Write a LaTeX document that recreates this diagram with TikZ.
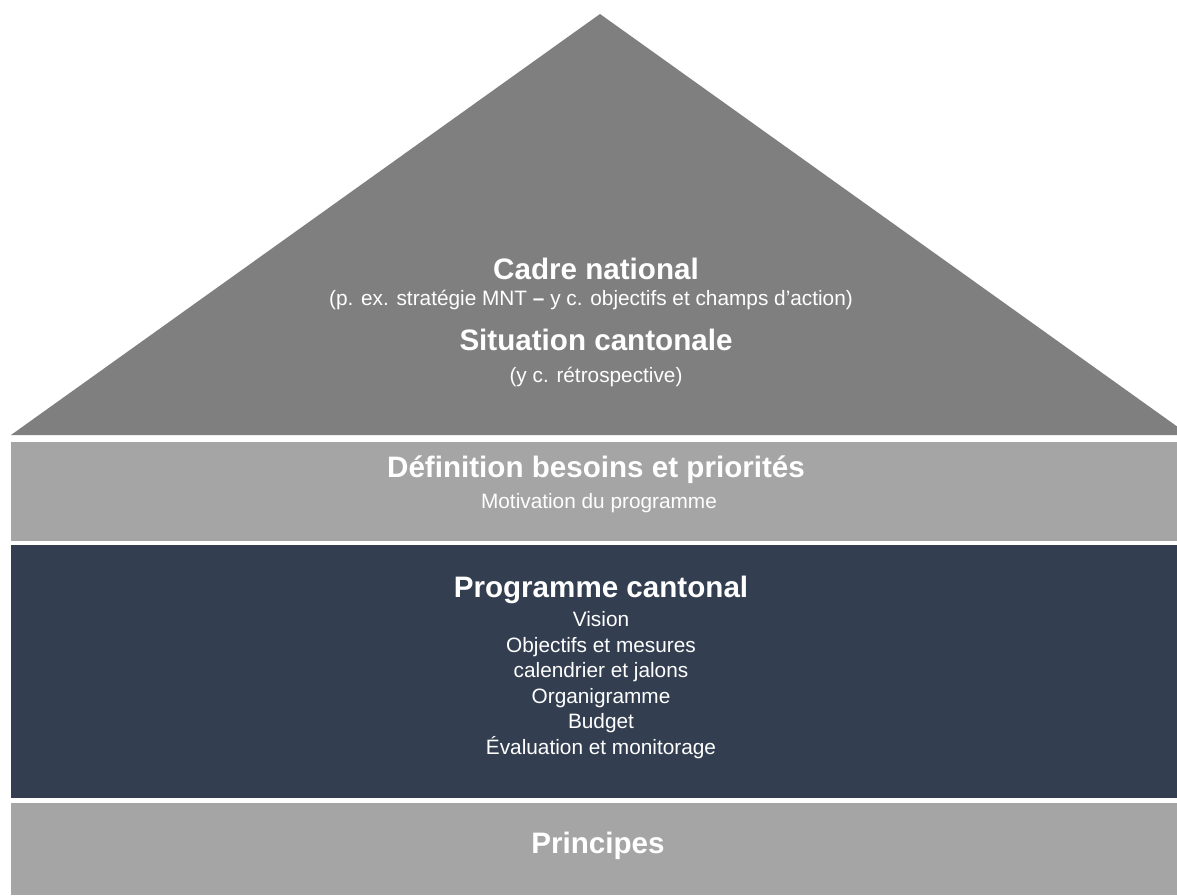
\documentclass[tikz,border=0pt]{standalone}
\usepackage{fontspec}
\setmainfont{Liberation Sans}
\definecolor{tri}{HTML}{7F7F7F}
\definecolor{band}{HTML}{A5A5A5}
\definecolor{dark}{HTML}{333F50}
\begin{document}
\begin{tikzpicture}[x=1pt,y=-1pt,
  title/.style={text=white,font=\fontsize{29.6}{32}\selectfont\bfseries,anchor=base,inner sep=0pt},
  sub/.style={text=white,font=\fontsize{20.8}{23}\selectfont,anchor=base,inner sep=0pt},
  item/.style={text=white,font=\fontsize{20.8}{23}\selectfont,anchor=base,inner sep=0pt}]
\useasboundingbox (0,0) rectangle (1177,895);
\fill[white] (0,0) rectangle (1177,895);
% roof
\coordinate (apex) at (600,14);
\coordinate (bl) at (11,435);
\fill[tri] (bl) -- (apex) -- (1189,435) -- cycle;
\fill[white] (1177,0) rectangle (1200,895);
% bands
\fill[band] (11,442) rectangle (1177,541);
\fill[dark] (11,545) rectangle (1177,798);
\fill[band] (11,803) rectangle (1177,895);
% texts
\node[title] (cadre) at (596,279) {Cadre national};
\node[sub] (cadresub) at (591,305) {(p. ex. stratégie MNT \textbf{–} y c. objectifs et champs d’action)};
\node[title] (sit) at (596,350) {Situation cantonale};
\node[sub] (sitsub) at (596,382) {(y c. rétrospective)};
\node[title] (def) at (596,477) {Définition besoins et priorités};
\node[sub] (defsub) at (599,508) {Motivation du programme};
\node[title] (prog) at (601,597) {Programme cantonal};
\node[item] (i1) at (601,626) {Vision};
\node[item] (i2) at (601,652) {Objectifs et mesures};
\node[item] (i3) at (601,677) {calendrier et jalons};
\node[item] (i4) at (601,703) {Organigramme};
\node[item] (i5) at (601,728) {Budget};
\node[item] (i6) at (601,754) {Évaluation et monitorage};
\node[title] (princ) at (598,853) {Principes};
\end{tikzpicture}
\end{document}
